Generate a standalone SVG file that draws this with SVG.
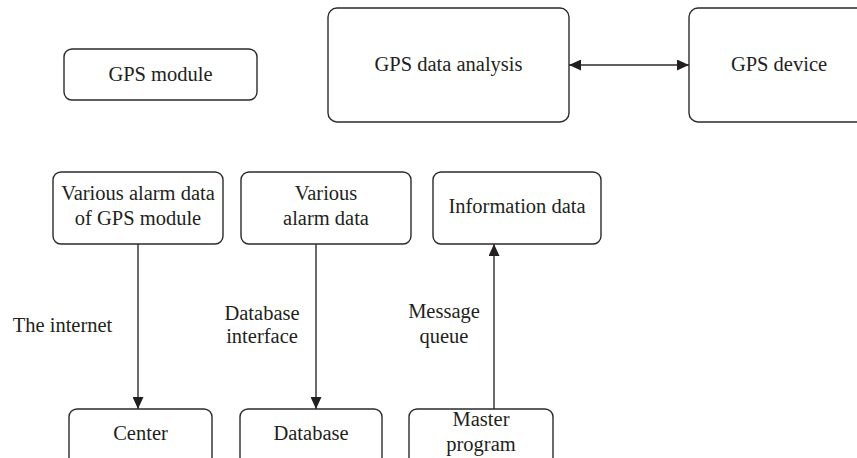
<svg xmlns="http://www.w3.org/2000/svg" width="857" height="458" viewBox="0 0 857 458">
<style>
.box{fill:#fff;stroke:#2b2b2b;stroke-width:1.4}
.t{font-family:"Liberation Serif","Times New Roman",serif;font-size:20.5px;fill:#231f20;text-anchor:middle}
.c{stroke:#2b2b2b;stroke-width:1.4;fill:none}
</style>
<defs>
<marker id="ah" viewBox="0 0 12 11" refX="12" refY="5.5" markerWidth="12" markerHeight="11" markerUnits="userSpaceOnUse" orient="auto-start-reverse">
<path d="M0,0 L12,5.5 L0,11 Z" fill="#231f20"/>
</marker>
</defs>
<rect width="857" height="458" fill="#fff"/>
<g id="gps-module"><rect class="box" x="64" y="49" width="193" height="51" rx="8"/><text class="t" x="160.5" y="81">GPS module</text></g>
<g id="gps-data-analysis"><rect class="box" x="328" y="8" width="241" height="114" rx="9"/><text class="t" x="448.5" y="71">GPS data analysis</text></g>
<g id="gps-device"><rect class="box" x="689" y="8" width="190" height="114" rx="9"/><text class="t" x="779" y="71">GPS device</text></g>
<g id="various-alarm-gps"><rect class="box" x="53" y="172" width="170" height="72" rx="8"/><text class="t" x="138" y="200">Various alarm data</text><text class="t" x="138" y="225">of GPS module</text></g>
<g id="various-alarm"><rect class="box" x="241" y="172" width="170" height="72" rx="8"/><text class="t" x="326" y="200">Various</text><text class="t" x="326" y="225">alarm data</text></g>
<g id="information-data"><rect class="box" x="433" y="172" width="168" height="72" rx="8"/><text class="t" x="517" y="213">Information data</text></g>
<g id="center"><rect class="box" x="69" y="409" width="143" height="70" rx="8"/><text class="t" x="140.5" y="440">Center</text></g>
<g id="database"><rect class="box" x="240" y="409" width="142" height="70" rx="8"/><text class="t" x="311" y="440">Database</text></g>
<g id="master-program"><rect class="box" x="409" y="409" width="144" height="70" rx="8"/><text class="t" x="481" y="426">Master</text><text class="t" x="481" y="451">program</text></g>
<g id="connectors">
<line class="c" x1="569" y1="65" x2="689" y2="65" marker-start="url(#ah)" marker-end="url(#ah)"/>
<line class="c" x1="138" y1="244" x2="138" y2="409" marker-end="url(#ah)"/>
<line class="c" x1="316" y1="244" x2="316" y2="409" marker-end="url(#ah)"/>
<line class="c" x1="494" y1="409" x2="494" y2="244" marker-end="url(#ah)"/>
<text class="t" x="62.5" y="332">The internet</text>
<text class="t" x="262" y="320">Database</text><text class="t" x="262" y="343">interface</text>
<text class="t" x="444" y="318">Message</text><text class="t" x="444" y="343">queue</text>
</g>
</svg>
